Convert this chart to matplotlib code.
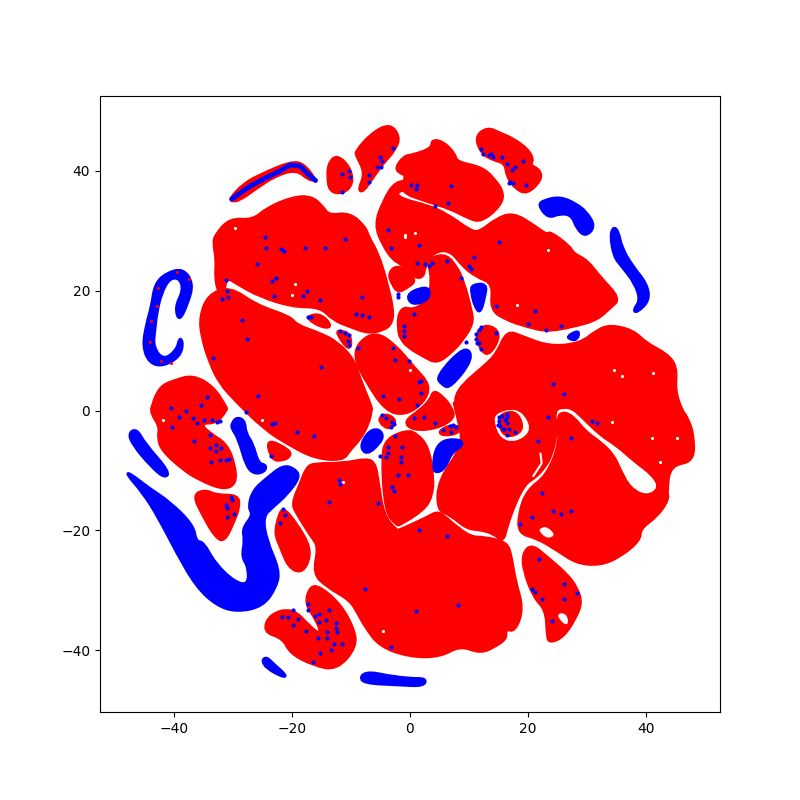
import matplotlib
import matplotlib.pyplot as plt
from matplotlib.path import Path
from matplotlib.patches import PathPatch

matplotlib.use('Agg')

# cluster outlines, in data units
red_upper_left = [(-33.0, 29.3), (-30.5, 32.1), (-26.6, 31.8), (-24.3, 33.8), (-20.0, 35.6), (-16.7, 35.8), (-14.7, 34.0), (-13.8, 32.6), (-10.2, 33.0), (-7.6, 30.7), (-7.0, 29.0), (-5.4, 26.2), (-4.0, 21.8), (-2.8, 16.8), (-3.1, 14.5), (-4.5, 13.4), (-7.1, 12.9), (-10.2, 14.0), (-13.0, 15.1), (-15.2, 17.3), (-19.8, 17.3), (-25.4, 19.0), (-29.4, 21.2), (-31.1, 22.3), (-31.6, 19.0), (-32.5, 19.8), (-33.0, 22.3), (-32.8, 25.1), (-33.3, 27.9)]
red_left = [(-34.2, 19.3), (-30.5, 20.7), (-26.0, 17.6), (-20.3, 15.7), (-19.2, 14.3), (-15.2, 12.9), (-12.4, 11.5), (-9.6, 8.7), (-8.5, 5.4), (-6.5, 0.6), (-6.5, 0.1), (-7.0, -2.2), (-8.5, -4.9), (-10.2, -6.6), (-11.3, -8.3), (-16.1, -8.0), (-20.9, -5.5), (-24.8, -3.0), (-29.7, 1.75), (-32.2, 4.5), (-33.9, 7.9), (-35.3, 12.3), (-35.6, 15.7)]
red_bottom = [(-16.1, -8.8), (-17.5, -9.4), (-18.6, -12.2), (-20.0, -15.5), (-19.2, -17.2), (-16.7, -21.1), (-15.5, -22.7), (-16.4, -27.2), (-14.1, -29.4), (-10.2, -31.6), (-8.8, -33.9), (-7.6, -36.1), (-5.1, -39.4), (0.0, -41.1), (5.1, -41.1), (8.5, -39.2), (11.9, -40.5), (14.4, -39.4), (16.4, -38.0), (16.1, -36.4), (17.8, -36.9), (19.2, -33.0), (17.8, -28.3), (17.2, -24.4), (16.4, -21.9), (12.4, -21.1), (10.4, -21.1), (7.9, -19.4), (5.6, -17.4), (4.5, -16.9), (3.1, -17.7), (-1.7, -19.9), (-2.3, -20.0), (-4.5, -17.4), (-5.4, -11.6), (-5.9, -8.8), (-7.3, -8.0), (-11.3, -8.8)]
red_center_low = [(-4.8, -7.7), (-4.0, -4.7), (-0.6, -3.3), (1.1, -3.8), (3.1, -6.0), (4.0, -11.1), (3.7, -14.4), (2.3, -16.6), (-1.7, -19.1), (-2.3, -19.1), (-4.2, -16.9)]
red_far_left = [(-43.8, 0.6), (-42.4, 4.0), (-39.8, 5.1), (-36.7, 5.9), (-33.3, 4.0), (-31.1, 0.6), (-31.0, 0.1), (-32.8, -2.1), (-35.6, -2.1), (-33.9, -3.8), (-31.1, -5.5), (-29.7, -8.8), (-29.4, -12.2), (-31.6, -13.2), (-35.6, -11.6), (-38.4, -9.9), (-42.1, -6.6), (-42.7, -4.4), (-42.4, -2.7), (-43.8, -0.5)]
red_triangle = [(-36.8, -14.1), (-34.7, -13.2), (-32.8, -14.1), (-29.1, -14.1), (-28.9, -16.1), (-29.7, -18.3), (-31.4, -21.9), (-33.0, -21.1), (-35.0, -17.7)]
red_wedge = [(-24.4, -4.6), (-20.3, -6.6), (-20.3, -7.7), (-21.5, -8.3), (-23.4, -8.3)]
red_oval = [(-21.5, -16.1), (-19.2, -18.8), (-16.9, -22.7), (-17.2, -25.5), (-18.6, -27.1), (-20.6, -26.1), (-22.0, -22.7), (-22.9, -20.5), (-22.3, -17.7)]
red_horseshoe_low = [(-16.9, -29.3), (-15.2, -29.4), (-11.9, -32.2), (-9.6, -36.1), (-9.0, -39.4), (-12.4, -43.3), (-16.4, -42.5), (-20.3, -40.5), (-21.5, -38.0), (-24.9, -36.9), (-23.7, -33.9), (-19.8, -33.0), (-16.9, -36.1), (-15.0, -37.5), (-15.8, -35.0), (-17.8, -32.2)]
red_gap_a = [(-17.5, 15.7), (-15.2, 16.2), (-13.3, 14.3), (-14.1, 13.7), (-16.4, 14.6)]
red_gap_b = [(-12.1, 13.4), (-10.2, 12.9), (-9.9, 10.7), (-10.7, 10.4), (-12.4, 12.9)]
red_center_mid = [(-9.0, 11.1), (-5.9, 13.2), (-2.5, 11.0), (0.8, 7.1), (3.4, 4.3), (2.5, 1.5), (-0.8, -0.8), (-4.2, 0.0), (-7.6, 5.1), (-9.3, 8.4)]
red_top_a = [(-13.8, 41.3), (-12.4, 42.7), (-10.2, 40.7), (-9.6, 37.9), (-11.3, 36.2), (-13.6, 36.5), (-14.0, 39.0)]
red_top_b = [(-9.3, 43.2), (-6.5, 46.3), (-3.4, 47.9), (-1.7, 45.7), (-2.5, 43.5), (-4.5, 41.3), (-6.2, 39.0), (-7.9, 36.5), (-8.8, 36.8), (-7.6, 39.6), (-9.0, 42.4)]
red_arc = [(-30.5, 35.4), (-28.2, 37.9), (-24.9, 39.6), (-20.3, 41.5), (-18.1, 41.3), (-15.8, 38.4), (-17.2, 38.5), (-19.2, 40.2), (-22.6, 39.3), (-26.0, 37.1), (-28.8, 35.1), (-30.2, 34.9)]
red_top_c = [(-2.5, 40.5), (-1.0, 42.5), (0.6, 42.7), (3.7, 43.8), (3.7, 45.2), (5.6, 44.9), (7.6, 42.9), (7.9, 41.5), (11.9, 40.7), (14.1, 39.0), (16.1, 36.0), (14.7, 33.5), (11.9, 31.5), (9.9, 32.1), (6.8, 33.7), (2.8, 34.9), (-1.7, 36.5), (-0.6, 39.3), (-1.7, 39.6)]
red_upper_mid = [(-6.0, 31.0), (-4.5, 35.1), (-2.5, 38.2), (0.0, 38.3), (0.5, 37.0), (-2.3, 36.6), (-1.7, 35.4), (2.8, 34.3), (6.2, 32.9), (10.4, 29.9), (11.9, 29.9), (14.7, 32.1), (17.5, 33.0), (20.9, 31.0), (23.2, 29.3), (23.7, 29.9), (27.1, 27.4), (27.7, 26.2), (30.0, 25.1), (32.2, 22.3), (35.6, 18.7), (33.9, 17.1), (31.6, 15.1), (27.7, 14.0), (23.2, 13.2), (19.8, 14.0), (16.4, 15.1), (13.6, 16.8), (14.1, 21.2), (11.3, 22.3), (9.0, 24.0), (6.8, 26.8), (4.0, 26.5), (2.5, 24.0), (2.3, 22.3), (0.8, 22.1), (-1.7, 24.6), (-2.8, 25.1), (-4.5, 27.4)]
red_small_a = [(-3.7, 22.9), (-2.2, 24.3), (-0.2, 22.9), (1.0, 21.6), (-0.5, 20.5), (-2.0, 19.7), (-3.0, 21.0)]
red_center_up = [(3.1, 24.6), (3.9, 25.7), (6.2, 26.0), (7.9, 24.0), (9.0, 21.8), (10.4, 16.8), (10.7, 14.6), (9.0, 11.8), (6.8, 9.5), (4.5, 7.9), (2.3, 9.0), (-0.6, 10.7), (-1.7, 12.3), (-1.9, 12.9), (-2.1, 15.7), (-1.1, 17.3), (0.6, 16.8), (3.1, 18.4), (3.7, 21.8)]
red_small_b = [(11.0, 12.9), (13.0, 14.5), (15.5, 12.9), (13.6, 9.3), (12.1, 9.8)]
red_right = [(7.9, 0.6), (7.6, 2.3), (9.0, 4.5), (12.4, 7.3), (14.7, 9.5), (16.4, 13.4), (19.2, 12.3), (23.7, 10.7), (28.8, 11.2), (31.6, 13.4), (33.9, 14.3), (37.8, 13.4), (40.1, 11.2), (43.5, 9.5), (45.2, 7.3), (44.9, 3.4), (46.0, 0.1), (46.9, -1.0), (48.0, -3.8), (48.1, -8.5), (44.1, -9.1), (43.5, -13.3), (43.8, -14.9), (41.8, -17.7), (39.0, -19.7), (39.0, -21.6), (35.6, -24.4), (32.2, -25.8), (28.2, -25.5), (24.9, -23.3), (21.5, -21.3), (18.4, -20.5), (18.4, -17.2), (19.8, -13.3), (23.2, -10.8), (25.4, -5.2), (24.9, -1.0), (26.0, -0.2), (27.7, -1.0), (29.7, -3.5), (32.2, -5.2), (34.5, -7.4), (35.6, -9.9), (37.3, -13.0), (40.1, -14.4), (42.3, -13.0), (41.2, -10.8), (37.8, -8.3), (35.0, -5.8), (32.2, -4.1), (28.8, -0.75), (27.4, 0.4), (26.0, 0.6), (24.4, 0.1), (24.9, -3.8), (24.0, -7.4), (22.9, -9.4), (21.2, -11.2), (19.5, -12.2), (17.8, -15.5), (16.4, -19.4), (15.8, -21.9), (14.1, -20.5), (11.9, -19.9), (9.6, -19.7), (6.8, -17.4), (4.6, -16.6), (4.8, -11.6), (9.0, -5.8), (8.2, -1.6), (7.3, 1.75)]
red_center_x = [(4.0, 3.4), (5.6, 2.3), (7.0, 0.6), (7.6, -1.3), (4.5, -3.0), (0.6, -3.3), (-1.1, -1.9), (1.7, 0.1), (3.4, 1.75)]
red_small_c = [(4.8, -3.5), (6.8, -2.4), (8.4, -2.7), (8.2, -3.8), (5.6, -4.2)]
red_small_d = [(-5.4, -1.3), (-4.0, -0.5), (-2.3, -1.6), (-3.1, -3.0), (-4.5, -2.7)]
red_top_right = [(11.0, 45.7), (13.1, 47.3), (15.3, 46.3), (17.5, 45.4), (20.1, 43.5), (20.9, 41.8), (20.3, 41.0), (22.0, 40.2), (22.3, 38.5), (19.8, 36.1), (17.8, 37.1), (16.4, 39.0), (16.1, 41.3), (14.1, 41.8), (12.1, 42.9)]
red_low_right = [(20.6, -22.3), (23.2, -24.4), (26.5, -27.2), (28.2, -29.4), (29.1, -31.9), (28.2, -34.4), (26.0, -37.8), (23.5, -38.8), (23.2, -37.2), (23.0, -33.3), (20.9, -31.1), (19.2, -26.6), (19.1, -23.8)]
red_clusters = [red_upper_left, red_left, red_bottom, red_center_low, red_far_left, red_triangle, red_wedge,
                red_oval, red_horseshoe_low, red_gap_a, red_gap_b, red_center_mid, red_top_a, red_top_b, red_arc,
                red_top_c, red_upper_mid, red_small_a, red_center_up, red_small_b, red_right, red_center_x,
                red_small_c, red_small_d, red_top_right, red_low_right]

# holes in the red clouds
hole_ring = [(14.4, -0.5), (18.1, 0.4), (20.1, -1.9), (20.1, -3.8), (17.8, -5.2), (15.5, -4.7), (14.4, -2.4)]
hole_low_right = [(24.9, -33.9), (26.5, -33.9), (26.8, -35.8), (25.7, -35.3)]
hole_right = [(22.0, -19.7), (23.2, -19.4), (24.6, -20.8), (23.2, -21.3), (22.0, -20.2)]
holes = [hole_ring, hole_low_right, hole_right]
hole_stub = [(22.1, -7.2), (22.3, -8.8), (20.9, -10.9)]
red_ring_inner = [(15.0, -0.75), (17.8, 0.0), (19.1, -2.2), (18.6, -3.8), (16.4, -4.4), (15.2, -3.0)]
white_specks = [(-0.85, 29.3), (0.8, 29.6), (23.4, 26.8), (18.1, 17.6), (0.0, 6.8), (45.2, -4.6), (41.0, -4.6), (34.2, -1.9), (42.4, -8.5), (-29.7, 30.4), (-19.5, 21.2), (-20.0, 19.3), (-25.0, -1.6), (-11.3, -11.9), (-4.5, -36.7), (-41.8, -1.6), (34.5, 6.8), (41.2, 6.2), (35.9, 5.7), (-0.8, 29.0)]

blue_hook = [(-43.2, 21.2), (-41.2, 23.0), (-38.4, 23.7), (-36.7, 21.2), (-37.6, 17.9), (-39.1, 14.8), (-39.8, 17.3), (-38.4, 20.1), (-39.0, 22.1), (-40.7, 22.1), (-42.1, 19.6), (-42.9, 16.2), (-43.2, 13.4), (-43.5, 10.7), (-41.8, 8.4), (-39.5, 10.1), (-39.0, 12.3), (-38.4, 11.2), (-39.0, 9.0), (-41.8, 7.4), (-44.1, 7.9), (-45.3, 10.7), (-44.6, 14.6), (-43.8, 17.3)]
blue_island_a = [(4.2, -6.6), (5.6, -4.9), (8.5, -4.8), (9.0, -5.8), (7.1, -6.9), (5.9, -9.7), (4.5, -10.4), (3.9, -9.7)]
blue_island_b = [(-8.5, -6.0), (-7.1, -3.5), (-5.4, -3.0), (-4.5, -4.1), (-5.1, -5.5), (-7.3, -7.4)]
blue_strip_left = [(-47.7, -3.8), (-46.3, -3.0), (-44.9, -5.5), (-40.7, -10.2), (-41.5, -11.3), (-43.8, -9.4), (-46.9, -5.8)]
blue_big = [(-48.0, -10.6), (-47.5, -10.4), (-44.1, -13.0), (-40.7, -15.2), (-36.7, -19.1), (-36.2, -21.9), (-35.0, -21.9), (-33.0, -25.5), (-29.7, -28.6), (-27.4, -29.1), (-27.4, -26.1), (-28.5, -24.4), (-28.0, -21.6), (-28.4, -19.7), (-26.6, -17.4), (-27.4, -16.1), (-26.6, -13.3), (-24.3, -11.3), (-21.5, -9.1), (-19.5, -9.7), (-18.6, -11.1), (-20.9, -14.1), (-23.2, -16.1), (-24.9, -17.7), (-24.3, -21.6), (-22.1, -26.6), (-22.6, -29.4), (-24.9, -32.7), (-29.4, -33.6), (-32.8, -32.5), (-36.2, -29.4), (-39.5, -23.8), (-42.7, -17.7), (-45.2, -13.8)]
blue_worm = [(-30.2, -2.2), (-29.4, -1.1), (-28.0, -1.6), (-27.8, -3.8), (-26.6, -5.5), (-25.7, -8.8), (-24.3, -9.1), (-24.6, -10.2), (-26.3, -10.6), (-27.7, -9.4), (-29.1, -4.6), (-30.2, -3.0)]
blue_low_a = [(-25.1, -41.7), (-24.3, -41.1), (-23.2, -42.2), (-20.9, -44.2), (-21.5, -44.5), (-24.3, -43.0)]
blue_low_b = [(-8.4, -44.2), (-6.8, -43.6), (-4.0, -44.2), (0.0, -44.7), (2.8, -44.7), (2.3, -46.0), (-1.7, -45.8), (-8.0, -45.5)]
blue_top_right = [(21.7, 34.3), (22.6, 35.1), (25.4, 35.7), (28.0, 34.6), (29.9, 33.2), (31.4, 30.7), (29.7, 29.0), (28.2, 30.4), (27.4, 32.6), (25.4, 32.9), (23.4, 32.1)]
blue_far_right = [(34.5, 30.7), (35.3, 29.9), (35.9, 27.1), (37.8, 24.0), (40.1, 21.2), (40.6, 18.4), (38.4, 16.3), (37.8, 16.8), (39.0, 18.4), (38.1, 21.2), (35.9, 24.0), (34.5, 25.7), (33.9, 29.3)]
blue_tiny = [(26.5, 12.3), (28.2, 13.3), (28.7, 12.9), (28.2, 11.8), (27.4, 11.8)]
blue_center_a = [(-0.6, 19.3), (1.7, 20.5), (3.4, 20.4), (3.1, 18.4), (0.3, 17.6)]
blue_center_b = [(10.4, 21.0), (13.0, 21.2), (12.7, 19.0), (11.9, 16.2), (11.0, 17.3), (10.4, 19.6)]
blue_center_c = [(4.4, 5.7), (9.3, 10.9), (10.8, 8.7), (6.8, 3.7), (5.4, 4.3)]
blue_clusters = [blue_hook, blue_island_a, blue_island_b, blue_strip_left, blue_big, blue_worm, blue_low_a, blue_low_b,
                 blue_top_right, blue_far_right, blue_tiny, blue_center_a, blue_center_b, blue_center_c]
blue_arc_line = [(-30.2, 35.3), (-28.5, 36.5), (-27.0, 37.5), (-24.5, 38.8), (-22.0, 40.0), (-20.3, 41.0), (-18.6, 40.8), (-17.2, 39.4), (-16.0, 38.4)]

# single blue points scattered on the red clouds
blue_points = [(-24.6, 28.9), (-24.4, 27.1), (-21.8, 26.9), (-21.3, 26.6), (-17.7, 27.1), (-14.4, 27.2), (-11.0, 28.6), (-25.9, 24.4), (-23.3, 21.7), (-22.7, 22.1), (-23.0, 19.1), (-18.1, 19.2), (-17.4, 19.9), (-15.2, 18.4), (-8.2, 18.9), (-9.1, 16.1), (-8.2, 15.9), (-6.9, 15.6), (-31.0, 19.9), (-31.8, 18.7), (-30.8, 18.9), (-31.2, 21.8), (-28.4, 15.1), (-27.6, 12.0), (-33.3, 8.7), (-15.0, 7.2), (-25.7, 2.5), (-34.4, 2.2), (-35.4, 0.9), (-40.4, 0.4), (-8.8, 10.4), (-2.8, 10.5), (-2.5, 8.4), (-4.5, 2.4), (-1.8, 1.9), (-3.8, 30.2), (-3.3, 27.2), (-1.0, 14.2), (-1.0, 13.2), (-1.1, 12.5), (-0.1, 8.3),
               (-17.2, 15.7), (-16.8, 15.7), (-11.8, 13.2), (-11.0, 12.9), (-10.4, 12.6), (-10.5, 11.6), (-10.3, 10.9), (-2.1, 19.5), (-2.0, 19.0),
               (-11.6, 39.4), (-10.4, 40.0), (-10.1, 38.9), (-11.5, 36.5), (-2.9, 43.8), (-5.0, 42.3), (-4.7, 41.6), (-5.6, 40.6), (-4.9, 40.6), (-6.9, 39.3), (-6.9, 38.1),
               (0.2, 37.6), (1.2, 37.6), (1.1, 36.9), (7.0, 37.4), (6.5, 34.6), (4.3, 34.1), (1.6, 27.6), (15.0, 28.1), (10.9, 25.6), (1.2, 24.7), (2.6, 24.4), (3.3, 24.2), (3.8, 24.6), (6.3, 24.9), (10.0, 24.2), (10.4, 23.6), (8.6, 22.2), (14.6, 17.4), (21.1, 16.7), (19.9, 14.4), (25.5, 14.2), (23.1, 13.4), (0.6, 16.2), (1.9, 4.9), (1.6, 4.7), (1.9, 2.9), (1.2, 1.0), (24.3, 4.4), (26.0, 2.7), (9.4, 11.4), (14.6, 12.9),
               (12.1, 14.0), (11.7, 13.4), (11.2, 12.8), (11.1, 12.0), (11.4, 11.2), (11.7, 11.2), (12.1, 10.2),
               (12.0, 43.7), (12.3, 42.8), (13.3, 42.7), (13.8, 42.8), (14.1, 42.3), (15.5, 42.4), (16.5, 41.1), (17.7, 40.6), (17.2, 40.1), (19.2, 41.6), (19.7, 37.6), (16.9, 38.2), (17.5, 38.0), (16.8, 37.9),
               (-37.9, -0.1), (-39.1, -1.0), (-36.7, -1.3), (-36.0, -2.1), (-34.9, -1.5), (-33.5, -1.5), (-32.7, -1.9), (-32.2, -1.8), (-40.3, -2.8), (-33.8, -4.0), (-36.5, -5.0), (-32.8, -5.8), (-33.8, -6.3), (-32.0, -6.3), (-32.8, -6.8), (-33.7, -8.5), (-32.1, -8.2), (-31.1, -8.3), (-30.6, -8.0),
               (-30.3, -14.5), (-30.1, -15.0), (-31.1, -15.7), (-31.0, -16.2), (-29.8, -17.3), (-31.0, -17.8), (-23.5, -7.5), (-21.5, -16.5), (-21.1, -17.5), (-22.1, -18.8),
               (-27.7, -0.3), (-23.3, -2.3), (-22.8, -2.0), (-19.1, -3.6), (-16.2, -4.2), (-12.0, -11.5), (-11.8, -12.2), (-13.8, -15.3), (-5.5, -15.5), (-7.6, -29.7), (-3.3, -39.5),
               (-2.5, -4.3), (-1.3, -6.0), (-3.7, -6.0), (-3.7, -7.0), (-4.0, -7.7), (-5.1, -7.6), (-1.6, -7.7), (-1.5, -8.5), (-2.0, -10.8), (-0.3, -10.7), (-3.0, -12.7), (-2.7, -13.5),
               (-4.8, -0.75), (-4.0, -1.3), (-3.1, -1.9), (-2.7, -2.3), (-3.2, -2.7),
               (-17.2, -32.2), (-17.3, -33.2), (-16.1, -34.2), (-15.4, -34.0), (-13.7, -33.2), (-15.4, -35.2), (-14.3, -35.0), (-12.6, -35.5), (-12.5, -36.2), (-12.3, -36.9), (-14.0, -37.0), (-14.0, -37.9), (-15.5, -37.9), (-11.5, -38.9), (-12.8, -39.0), (-13.3, -39.9), (-15.2, -40.5), (-16.4, -42.0), (-17.6, -36.7), (-19.8, -35.7), (-18.9, -34.7), (-19.8, -33.2), (-20.6, -34.4), (-21.6, -34.4),
               (0.7, -1.3), (2.3, -1.1), (4.3, -2.0), (5.6, -3.3), (7.0, -3.5), (6.8, -2.5), (7.3, -2.4), (7.8, -2.7),
               (16.4, -0.5), (15.6, -0.9), (15.0, -1.1), (16.4, -1.0), (16.1, -1.5), (16.5, -2.0), (15.1, -1.7), (14.9, -2.4), (15.3, -2.5), (15.7, -3.1), (16.0, -3.1), (16.8, -3.0), (17.7, -3.5), (16.5, -4.0),
               (23.4, -1.0), (21.7, -5.0), (30.9, -1.8), (31.6, -2.1), (27.2, -4.6), (22.4, -13.8), (24.3, -16.8), (25.5, -17.3), (27.2, -16.8), (20.7, -17.8), (18.7, -19.0), (1.6, -20.0), (6.2, -21.0), (8.2, -32.5), (1.1, -33.4),
               (21.9, -24.7), (26.0, -28.9), (28.2, -30.4), (20.6, -29.7), (21.2, -30.2), (22.4, -31.4), (26.0, -31.4), (24.0, -35.1)]
# red points showing through on the blue hook
red_on_hook = [(-42.6, 20.4), (-43.8, 15.0), (-44.0, 11.5), (-42.2, 8.2), (-40.4, 8.0), (-37.4, 22.0), (-42.8, 17.5), (-39.4, 23.2)]


def fillCluster(ax, outline, color, lw=2.0):
    # closed quadratic curve through the outline, keeps the blobs round
    verts = []
    codes = []
    n = len(outline)
    for i in range(n):
        x0, y0 = outline[i]
        x1, y1 = outline[(i + 1) % n]
        mid = ((x0 + x1) / 2, (y0 + y1) / 2)
        if i == 0:
            xl, yl = outline[-1]
            verts.append(((xl + x0) / 2, (yl + y0) / 2))
            codes.append(Path.MOVETO)
        verts.extend([(x0, y0), mid])
        codes.extend([Path.CURVE3, Path.CURVE3])
    ax.add_patch(PathPatch(Path(verts, codes), facecolor=color, edgecolor=color, lw=lw, joinstyle='round'))


fig, ax = plt.subplots(figsize=(8, 8), dpi=100)

for outline in red_clusters:
    fillCluster(ax, outline, 'red')
for outline in holes:
    fillCluster(ax, outline, 'white', lw=0.5)
fillCluster(ax, red_ring_inner, 'red')
ax.plot([p[0] for p in hole_stub], [p[1] for p in hole_stub], color='white', lw=1.5)
ax.scatter([p[0] for p in white_specks], [p[1] for p in white_specks], s=5, c='white', linewidths=0, zorder=2)

ax.plot([p[0] for p in blue_arc_line], [p[1] for p in blue_arc_line], color='blue', lw=3.5, solid_capstyle='round')
for outline in blue_clusters:
    fillCluster(ax, outline, 'blue')
ax.scatter([p[0] for p in blue_points], [p[1] for p in blue_points], s=9, c='blue', linewidths=0, zorder=3)
ax.scatter([p[0] for p in red_on_hook], [p[1] for p in red_on_hook], s=5, c='red', linewidths=0, zorder=3)

ax.set_xlim(-52.5, 52.5)
ax.set_ylim(-50.3, 52.5)
ax.set_xticks([-40, -20, 0, 20, 40])
ax.set_yticks([-40, -20, 0, 20, 40])

fig.savefig('out.png', dpi=100)
